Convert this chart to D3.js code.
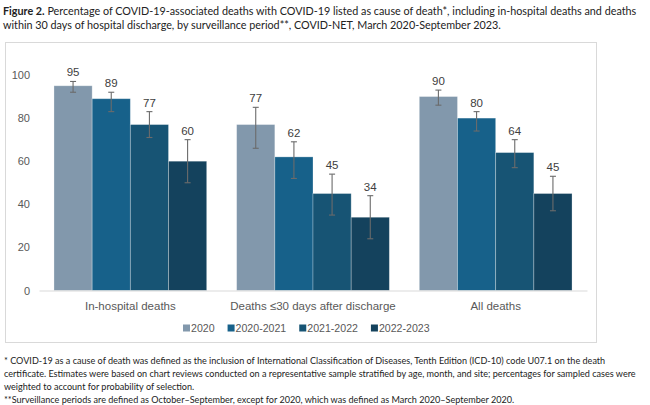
<!DOCTYPE html>
<html>
<head>
<meta charset="utf-8">
<script src="https://cdn.jsdelivr.net/npm/d3@7/dist/d3.min.js"></script>
<style>
    body { margin: 0; background: #fff; }
    svg { display: block; }
    .tick-label, .cat-label, .legend-label { font-family: "Liberation Sans", Arial, sans-serif; fill: #595959; }
    .note { font-family: Lato, "Open Sans", sans-serif; fill: #222; }
</style>
</head>
<body>
<div id="chart"></div>
<script>
const categories = ["In-hospital deaths", "Deaths \u226430 days after discharge", "All deaths"];
const periods = ["2020", "2020-2021", "2021-2022", "2022-2023"];

const v2020 = [95, 77, 90];
const v2021 = [89, 62, 80];
const v2022 = [77, 45, 64];
const v2023 = [60, 34, 45];

const lo2020 = [92, 66, 86];
const hi2020 = [97, 85, 93];
const lo2021 = [83, 52, 74];
const hi2021 = [92, 69, 83];
const lo2022 = [71, 35, 57];
const hi2022 = [83, 54, 70];
const lo2023 = [50, 24, 37];
const hi2023 = [70, 44, 53];

const yTicks = [0, 20, 40, 60, 80, 100];

const titleBold = "Figure 2.";
const titleLine1 = " Percentage of COVID-19-associated deaths with COVID-19 listed as cause of death*, including in-hospital deaths and deaths";
const titleLine2 = "within 30 days of hospital discharge, by surveillance period**, COVID-NET, March 2020-September 2023.";
const notes = [
    "* COVID-19 as a cause of death was defined as the inclusion of International Classification of Diseases, Tenth Edition (ICD-10) code U07.1 on the death",
    "certificate. Estimates were based on chart reviews conducted on a representative sample stratified by age, month, and site; percentages for sampled cases were",
    "weighted to account for probability of selection.",
    "**Surveillance periods are defined as October\u2013September, except for 2020, which was defined as March 2020\u2013September 2020."
];

const colours = {
    "2020": "#8298ac",
    "2020-2021": "#17618a",
    "2021-2022": "#175474",
    "2022-2023": "#14425d"
};

const seriesValues = [v2020, v2021, v2022, v2023];
const seriesLo = [lo2020, lo2021, lo2022, lo2023];
const seriesHi = [hi2020, hi2021, hi2022, hi2023];

// flat rows, one per bar
const rows = [];
periods.forEach((p, si) => {
    categories.forEach((c, ci) => {
	rows.push({category: c, period: p, value: seriesValues[si][ci], lo: seriesLo[si][ci], hi: seriesHi[si][ci]});
    });
});

const width = 650, height = 405;
const plot = {left: 39, right: 587, top: 75, bottom: 290.5};

const svg = d3.select("#chart").append("svg")
    .attr("width", width)
    .attr("height", height);

// size a block of text so its widest line fills the given width
function fitFont(selection, target) {
    selection.attr("font-size", 10);
    let widest = d3.max(selection.nodes(), n => n.getComputedTextLength());
    let size = 10 * target / widest;
    selection.attr("font-size", size);
}

// title
const title = svg.append("g").attr("class", "note");
const t1 = title.append("text")
    .attr("x", 3)
    .attr("y", 15);
t1.append("tspan").attr("font-weight", "bold").text(titleBold);
t1.append("tspan").text(titleLine1);
title.append("text")
    .attr("x", 3)
    .attr("y", 29)
    .text(titleLine2);
fitFont(title.selectAll("text"), 634);

// chart frame
svg.append("rect")
    .attr("x", 5.5)
    .attr("y", 42.5)
    .attr("width", 591)
    .attr("height", 300)
    .attr("fill", "none")
    .attr("stroke", "#d9d9d9")
    .attr("stroke-width", 1);

const x0 = d3.scaleBand()
    .domain(categories)
    .range([plot.left, plot.right])
    .paddingInner(0.164)
    .paddingOuter(0.082);

const x1 = d3.scaleBand()
    .domain(periods)
    .range([0, x0.bandwidth()]);

const y = d3.scaleLinear()
    .domain([0, 100])
    .range([plot.bottom, plot.top]);

// y axis labels only, no line
const yAxis = svg.append("g")
    .attr("transform", `translate(${plot.left}, 0)`)
    .call(d3.axisLeft(y).tickValues(yTicks).tickSize(0).tickPadding(9));
yAxis.select(".domain").remove();
yAxis.selectAll("text")
    .attr("class", "tick-label")
    .attr("font-size", 11)
    .attr("font-family", null)
    .attr("fill", null);

// bars
svg.append("g").selectAll("rect")
    .data(rows)
    .join("rect")
    .attr("x", d => x0(d.category) + x1(d.period))
    .attr("y", d => y(d.value))
    .attr("width", x1.bandwidth())
    .attr("height", d => y(0) - y(d.value))
    .attr("fill", d => colours[d.period])
    .attr("stroke", "rgba(255,255,255,0.35)")
    .attr("stroke-width", 0.8);

// baseline
const xAxis = svg.append("g")
    .attr("transform", `translate(0, ${plot.bottom})`)
    .call(d3.axisBottom(x0).tickSize(0).tickPadding(11));
xAxis.select(".domain")
    .attr("stroke", "#d9d9d9");
xAxis.selectAll("text")
    .attr("class", "cat-label")
    .attr("font-size", 11.5)
    .attr("font-family", null)
    .attr("fill", null);

// error bars
const err = svg.append("g")
    .attr("stroke", "#6b6b6b")
    .attr("stroke-width", 1.1);
const cx = d => x0(d.category) + x1(d.period) + x1.bandwidth() / 2;
err.selectAll(".whisker")
    .data(rows)
    .join("line")
    .attr("class", "whisker")
    .attr("x1", cx).attr("x2", cx)
    .attr("y1", d => y(d.lo)).attr("y2", d => y(d.hi));
err.selectAll(".cap-hi")
    .data(rows)
    .join("line")
    .attr("class", "cap-hi")
    .attr("x1", d => cx(d) - 3).attr("x2", d => cx(d) + 3)
    .attr("y1", d => y(d.hi)).attr("y2", d => y(d.hi));
err.selectAll(".cap-lo")
    .data(rows)
    .join("line")
    .attr("class", "cap-lo")
    .attr("x1", d => cx(d) - 3).attr("x2", d => cx(d) + 3)
    .attr("y1", d => y(d.lo)).attr("y2", d => y(d.lo));

// value labels
svg.append("g").selectAll("text")
    .data(rows)
    .join("text")
    .attr("class", "tick-label")
    .attr("x", cx)
    .attr("y", d => y(d.hi) - 5)
    .attr("text-anchor", "middle")
    .attr("font-size", 11.5)
    .style("fill", "#404040")
    .text(d => d.value);

// legend, laid out left to right by measured text width
const legend = svg.append("g")
    .attr("transform", "translate(183, 328)");
let legendCursor = 0;
periods.forEach(p => {
    const item = legend.append("g")
	.attr("transform", `translate(${legendCursor}, 0)`);
    item.append("rect")
	.attr("x", 0)
	.attr("y", -3.5)
	.attr("width", 7)
	.attr("height", 7)
	.attr("fill", colours[p]);
    const label = item.append("text")
	.attr("class", "legend-label")
	.attr("x", 8)
	.attr("dy", "0.36em")
	.attr("font-size", 10.6)
	.text(p);
    legendCursor += 8 + label.node().getComputedTextLength() + 13;
});

// footnotes
const footnotes = svg.append("g").attr("class", "note");
footnotes.selectAll("text")
    .data(notes)
    .join("text")
    .attr("x", 4)
    .attr("y", (d, i) => 364 + i * 13)
    .text(d => d);
fitFont(footnotes.selectAll("text"), 632);
</script>
</body>
</html>
